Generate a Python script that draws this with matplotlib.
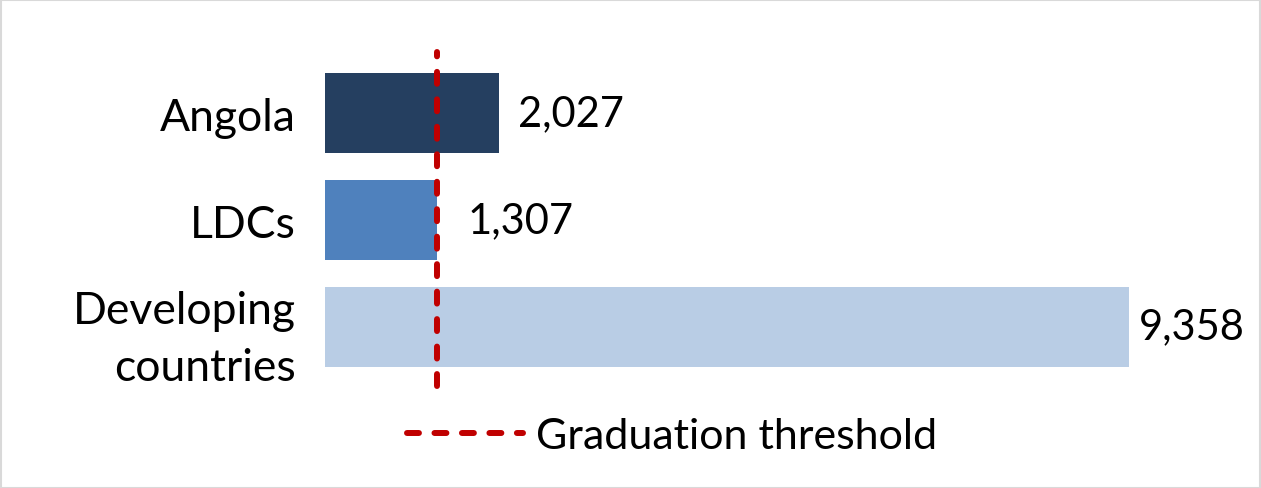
import matplotlib
matplotlib.use("Agg")
import matplotlib.pyplot as plt
from matplotlib.patches import Rectangle

categories = ["Angola", "LDCs", "Developing\ncountries"]
values = [2027, 1307, 9358]
value_labels = ["2,027", "1,307", "9,358"]
threshold = 1300
legend_label = "Graduation threshold"

colors = ["#253F60", "#4F81BD", "#B9CDE5"]
label_pads = [19, 30, 10]  # pixels

plt.rcParams['font.family'] = ['Lato', 'DejaVu Sans']

W, H = 1261, 489
fig = plt.figure(figsize=(W / 100, H / 100), dpi=100)
ax = fig.add_axes([325 / W, 1 - 381 / H, (1184 - 325) / W, 320 / H])

ypos = list(range(len(categories)))
ax.barh(ypos, values, height=0.75, color=colors)
ax.set_ylim(len(categories) - 0.5, -0.5)
ax.set_xlim(0, 10000)

for y, v, lab, pad in zip(ypos, values, value_labels, label_pads):
    ax.annotate(lab, (v, y), xytext=(pad * 0.72, 0), textcoords="offset points",
                ha="left", va="center", fontsize=30, color="black")

ax.set_yticks(ypos)
ax.set_yticklabels(categories, fontsize=32, linespacing=1.5)
ax.tick_params(axis="y", length=0, pad=21)
ax.set_xticks([])
for s in ax.spines.values():
    s.set_visible(False)

ln = ax.axvline(threshold, ymin=-0.02, ymax=1.025, color="#C00000", lw=4.3,
                linestyle=(0, (2.0, 2.6)), dash_capstyle="round",
                label=legend_label, clip_on=False)

leg = fig.legend(handles=[ln], labels=[legend_label], loc="center",
                 bbox_to_anchor=(672 / W, 1 - 437 / H), frameon=False,
                 fontsize=31, handlelength=2.7, handletextpad=0.3)

fig.patches.append(Rectangle((0.5 / W, 0.5 / H), 1 - 1.5 / W, 1 - 1.5 / H,
                             transform=fig.transFigure, fill=False,
                             edgecolor="#D9D9D9", lw=1.5))

fig.savefig("out.png", dpi=100)
